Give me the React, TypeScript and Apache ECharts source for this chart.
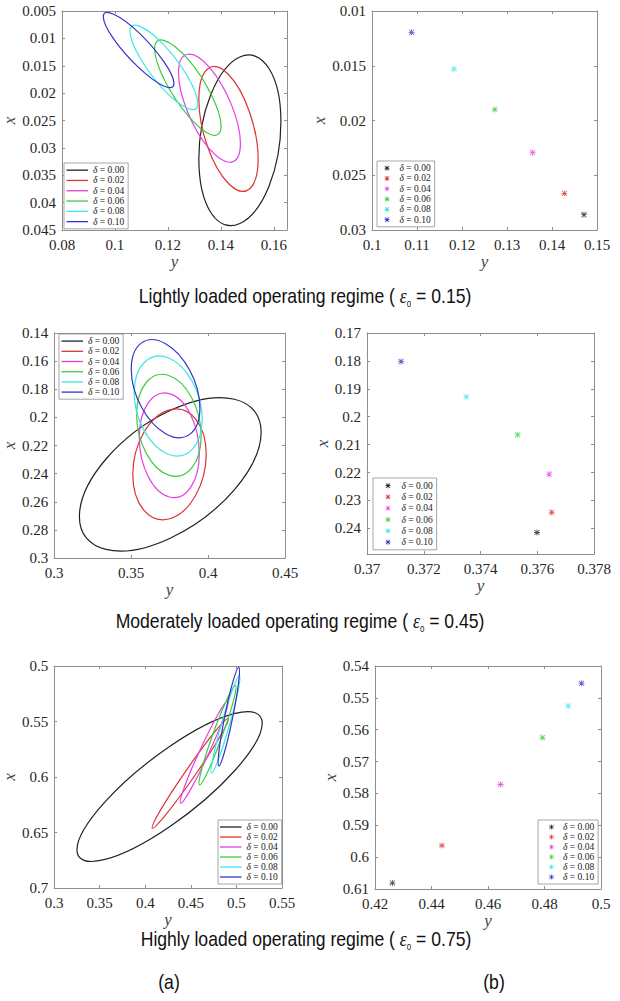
import React, { useEffect, useRef } from 'react';
import * as echarts from 'echarts';

// ---------- data ----------
const DELTAS = ['δ = 0.00', 'δ = 0.02', 'δ = 0.04', 'δ = 0.06', 'δ = 0.08', 'δ = 0.10'];
const COLORS = ['#222222', '#dd3333', '#e53ee5', '#3dcc3d', '#3ee6e6', '#3434c8'];

// Lightly loaded (ε0 = 0.15): ellipse outline points [y, x]
const LIGHT_E0 = [[0.1627, 0.0252], [0.1582, 0.0155], [0.1472, 0.0134], [0.1362, 0.0203], [0.1317, 0.0320], [0.1362, 0.0418], [0.1472, 0.0438], [0.1582, 0.0370]];
const LIGHT_E2 = [[0.1541, 0.0320], [0.1508, 0.0234], [0.1429, 0.0166], [0.1350, 0.0156], [0.1317, 0.0211], [0.1350, 0.0298], [0.1429, 0.0365], [0.1508, 0.0375]];
const LIGHT_E4 = [[0.1474, 0.0292], [0.1440, 0.0221], [0.1357, 0.0153], [0.1275, 0.0129], [0.1240, 0.0163], [0.1275, 0.0235], [0.1357, 0.0302], [0.1440, 0.0326]];
const LIGHT_E6 = [[0.1401, 0.0260], [0.1364, 0.0203], [0.1276, 0.0138], [0.1187, 0.0104], [0.1150, 0.0119], [0.1187, 0.0176], [0.1276, 0.0241], [0.1364, 0.0276]];
const LIGHT_E8 = [[0.1313, 0.0219], [0.1276, 0.0171], [0.1185, 0.0112], [0.1094, 0.0078], [0.1057, 0.0087], [0.1094, 0.0135], [0.1185, 0.0194], [0.1276, 0.0228]];
const LIGHT_E10 = [[0.1223, 0.0182], [0.1184, 0.0142], [0.1089, 0.0089], [0.0995, 0.0056], [0.0956, 0.0060], [0.0995, 0.0101], [0.1089, 0.0153], [0.1184, 0.0187]];

// Moderately loaded (ε0 = 0.45)
const MOD_E0 = [[0.4345, 0.2104], [0.4172, 0.1871], [0.3754, 0.1951], [0.3337, 0.2296], [0.3164, 0.2706], [0.3337, 0.2939], [0.3754, 0.2859], [0.4172, 0.2513]];
const MOD_E2 = [[0.3988, 0.2263], [0.3918, 0.2010], [0.3750, 0.1947], [0.3581, 0.2111], [0.3511, 0.2405], [0.3581, 0.2658], [0.3750, 0.2721], [0.3918, 0.2557]];
const MOD_E4 = [[0.3943, 0.2256], [0.3886, 0.1979], [0.3748, 0.1831], [0.3610, 0.1899], [0.3553, 0.2142], [0.3610, 0.2419], [0.3748, 0.2566], [0.3886, 0.2499]];
const MOD_E6 = [[0.3955, 0.2132], [0.3893, 0.1859], [0.3745, 0.1702], [0.3598, 0.1752], [0.3536, 0.1981], [0.3598, 0.2254], [0.3745, 0.2411], [0.3893, 0.2361]];
const MOD_E8 = [[0.3962, 0.2014], [0.3897, 0.1744], [0.3741, 0.1576], [0.3585, 0.1610], [0.3520, 0.1824], [0.3585, 0.2094], [0.3741, 0.2262], [0.3897, 0.2228]];
const MOD_E10 = [[0.3947, 0.1933], [0.3882, 0.1667], [0.3724, 0.1476], [0.3566, 0.1472], [0.3501, 0.1658], [0.3566, 0.1925], [0.3724, 0.2116], [0.3882, 0.2119]];

// Highly loaded (ε0 = 0.75)
const HIGH_E0 = [[0.5283, 0.5516], [0.4985, 0.5427], [0.4267, 0.5725], [0.3548, 0.6233], [0.3250, 0.6656], [0.3548, 0.6745], [0.4267, 0.6448], [0.4985, 0.5939]];
const HIGH_E2 = [[0.4909, 0.5474], [0.4819, 0.5637], [0.4538, 0.5993], [0.4230, 0.6334], [0.4077, 0.6461], [0.4167, 0.6298], [0.4448, 0.5942], [0.4755, 0.5601]];
const HIGH_E4 = [[0.4905, 0.5315], [0.4862, 0.5463], [0.4693, 0.5793], [0.4496, 0.6114], [0.4387, 0.6236], [0.4430, 0.6088], [0.4600, 0.5758], [0.4797, 0.5437]];
const HIGH_E6 = [[0.4989, 0.5177], [0.4966, 0.5318], [0.4840, 0.5638], [0.4687, 0.5950], [0.4595, 0.6071], [0.4619, 0.5930], [0.4744, 0.5610], [0.4898, 0.5298]];
const HIGH_E8 = [[0.5033, 0.5087], [0.5018, 0.5223], [0.4922, 0.5536], [0.4801, 0.5844], [0.4726, 0.5966], [0.4742, 0.5830], [0.4838, 0.5517], [0.4959, 0.5209]];
const HIGH_E10 = [[0.5026, 0.5012], [0.5024, 0.5147], [0.4959, 0.5463], [0.4869, 0.5775], [0.4807, 0.5900], [0.4809, 0.5765], [0.4873, 0.5449], [0.4963, 0.5137]];

// Equilibrium points [y, x], one per δ
const LIGHT_PTS = [[0.1471, 0.0286], [0.14275, 0.02665], [0.1357, 0.02294], [0.1273, 0.0190], [0.1182, 0.0153], [0.1088, 0.01195]];
const MOD_PTS = [[0.37599, 0.2415], [0.37651, 0.2343], [0.37642, 0.2206], [0.37531, 0.2065], [0.3735, 0.1929], [0.3712, 0.1802]];
const HIGH_PTS = [[0.42616, 0.60813], [0.4437, 0.59633], [0.46444, 0.5772], [0.47926, 0.56247], [0.48838, 0.55254], [0.4931, 0.5454]];

// axis ranges [min, max, interval]
const P1_Y = [0.08, 0.165, 0.02]; const P1_X = [0.005, 0.045, 0.005];
const P2_Y = [0.1, 0.15, 0.01]; const P2_X = [0.01, 0.03, 0.005];
const P3_Y = [0.3, 0.45, 0.05]; const P3_X = [0.14, 0.3, 0.02];
const P4_Y = [0.37, 0.378, 0.002]; const P4_X = [0.17, 0.2492, 0.01];
const P5_Y = [0.3, 0.55, 0.05]; const P5_X = [0.5, 0.7, 0.05];
const P6_Y = [0.42, 0.5, 0.02]; const P6_X = [0.54, 0.61, 0.01];

const CAPTIONS = [
  { pre: 'Lightly loaded operating regime ( ', post: ' = 0.15)', x: 305, y: 296 },
  { pre: 'Moderately loaded operating regime ( ', post: ' = 0.45)', x: 300, y: 621 },
  { pre: 'Highly loaded operating regime ( ', post: ' = 0.75)', x: 306, y: 939 },
];
const SUBLABELS = [{ t: '(a)', x: 169, y: 982 }, { t: '(b)', x: 494, y: 982 }];

// ---------- styling ----------
const SERIF = 'Liberation Serif, Times New Roman, serif';
const SANS = 'Liberation Sans, Arial, sans-serif';
const BOX = '#8f8f8f';
const ASTERISK = 'path://M4.35,0H5.65V10H4.35Z M0,4.35H10V5.65H0Z M1.2,0.3L9.7,8.8L8.8,9.7L0.3,1.2Z M8.8,0.3L9.7,1.2L1.2,9.7L0.3,8.8Z';

const PANELS = [
  { grid: { left: 62, top: 11, width: 225, height: 219 }, h: P1_Y, v: P1_X, hHideMax: true, vHideMax: false, hGap: 22, vGap: 34 },
  { grid: { left: 372, top: 11, width: 225, height: 219 }, h: P2_Y, v: P2_X, hHideMax: false, vHideMax: false, hGap: 22, vGap: 36 },
  { grid: { left: 54, top: 333, width: 231, height: 225 }, h: P3_Y, v: P3_X, hHideMax: false, vHideMax: false, hGap: 20, vGap: 28 },
  { grid: { left: 367, top: 333, width: 227, height: 221 }, h: P4_Y, v: P4_X, hHideMax: false, vHideMax: true, hGap: 23, vGap: 30 },
  { grid: { left: 53, top: 666, width: 229, height: 222 }, h: P5_Y, v: P5_X, hHideMax: false, vHideMax: false, hGap: 18, vGap: 28 },
  { grid: { left: 375, top: 666, width: 226, height: 223 }, h: P6_Y, v: P6_X, hHideMax: false, vHideMax: false, hGap: 18, vGap: 29 },
];

const LEGENDS = [
  { left: 64, top: 163, line: true, pad: [2, 4, 2, 2.5], lh: 10.3, textPad: 0 },
  { left: 377, top: 161, line: false, pad: [2, 4, 2, 7.5], lh: 10.3, textPad: 5 },
  { left: 59, top: 334, line: true, pad: [2, 4, 2, 2.5], lh: 10.2, textPad: 0 },
  { left: 373, top: 478, line: false, pad: [2, 4, 2, 12.5], lh: 11.3, textPad: 6 },
  { left: 218, top: 820, line: true, pad: [2, 4, 2, 2], lh: 9.9, textPad: 0 },
  { left: 538, top: 820, line: false, pad: [2, 4, 2, 11], lh: 9.9, textPad: 4 },
];

function buildAxes() {
  const xAxis: any[] = [];
  const yAxis: any[] = [];
  PANELS.forEach((p, i) => {
    const base = {
      type: 'value', gridIndex: i, splitLine: { show: false },
      axisLine: { show: true, onZero: false, lineStyle: { color: BOX, width: 1 } },
      axisTick: { show: true, inside: true, length: 3, lineStyle: { color: BOX } },
    };
    const lbl = { fontFamily: SERIF, fontSize: 15, color: '#262626' };
    const nameStyle = { fontFamily: SERIF, fontStyle: 'italic', fontSize: 17, color: '#444' };
    xAxis.push({
      ...base, position: 'bottom', min: p.h[0], max: p.h[1], interval: p.h[2],
      axisLabel: { ...lbl, margin: 7, showMaxLabel: p.hHideMax ? false : null },
      name: 'y', nameLocation: 'middle', nameGap: p.hGap, nameTextStyle: nameStyle,
    });
    xAxis.push({ ...base, position: 'top', min: p.h[0], max: p.h[1], interval: p.h[2], axisLabel: { show: false } });
    yAxis.push({
      ...base, position: 'left', inverse: true, min: p.v[0], max: p.v[1], interval: p.v[2],
      axisLabel: { ...lbl, margin: 6, showMaxLabel: p.vHideMax ? false : null },
      name: 'x', nameLocation: 'middle', nameRotate: 90, nameGap: p.vGap, nameTextStyle: nameStyle,
    });
    yAxis.push({ ...base, position: 'right', inverse: true, min: p.v[0], max: p.v[1], interval: p.v[2], axisLabel: { show: false } });
  });
  return { xAxis, yAxis };
}

function ellipseSeries(name: string, color: string, pts: number[][], gi: number) {
  return {
    type: 'custom', name, coordinateSystem: 'cartesian2d',
    xAxisIndex: gi * 2, yAxisIndex: gi * 2,
    data: pts, encode: { x: 0, y: 1 },
    itemStyle: { color }, silent: true, clip: true,
    renderItem: (params: any, api: any) => {
      if (params.dataIndex !== 0) return null;
      const P = pts.map((p) => api.coord(p));
      const n = P.length;
      const t = 0.1875;
      let d = `M${P[0][0]},${P[0][1]}`;
      for (let k = 0; k < n; k++) {
        const p0 = P[(k - 1 + n) % n], p1 = P[k], p2 = P[(k + 1) % n], p3 = P[(k + 2) % n];
        const c1x = p1[0] + (p2[0] - p0[0]) * t, c1y = p1[1] + (p2[1] - p0[1]) * t;
        const c2x = p2[0] - (p3[0] - p1[0]) * t, c2y = p2[1] - (p3[1] - p1[1]) * t;
        d += ` C${c1x},${c1y} ${c2x},${c2y} ${p2[0]},${p2[1]}`;
      }
      d += ' Z';
      return { type: 'path', shape: { pathData: d }, style: { fill: 'none', stroke: color, lineWidth: 1.2 } };
    },
  };
}

function pointSeries(name: string, color: string, pt: number[], gi: number) {
  return {
    type: 'scatter', name, xAxisIndex: gi * 2, yAxisIndex: gi * 2,
    data: [pt], symbol: ASTERISK, symbolSize: 6, itemStyle: { color }, silent: true,
  };
}

export default function App() {
  const ref = useRef<HTMLDivElement>(null);
  useEffect(() => {
    if (!ref.current) return;
    const chart = echarts.init(ref.current, undefined, { renderer: 'svg' });
    const { xAxis, yAxis } = buildAxes();
    const ellipseSets = [
      [LIGHT_E0, LIGHT_E2, LIGHT_E4, LIGHT_E6, LIGHT_E8, LIGHT_E10],
      [MOD_E0, MOD_E2, MOD_E4, MOD_E6, MOD_E8, MOD_E10],
      [HIGH_E0, HIGH_E2, HIGH_E4, HIGH_E6, HIGH_E8, HIGH_E10],
    ];
    const pointSets = [LIGHT_PTS, MOD_PTS, HIGH_PTS];
    const series: any[] = [];
    ellipseSets.forEach((set, r) => set.forEach((pts, k) => series.push(ellipseSeries(DELTAS[k], COLORS[k], pts, r * 2))));
    pointSets.forEach((set, r) => set.forEach((pt, k) => series.push(pointSeries(DELTAS[k], COLORS[k], pt, r * 2 + 1))));

    const legend = LEGENDS.map((L) => ({
      show: true, orient: 'vertical', left: L.left, top: L.top, data: DELTAS, selectedMode: false,
      icon: L.line ? 'rect' : ASTERISK, itemWidth: L.line ? 21.5 : 5, itemHeight: L.line ? 1.3 : 5,
      itemGap: 0, padding: L.pad, borderColor: BOX, borderWidth: 0.8, backgroundColor: '#fff',
      itemStyle: { borderWidth: 0 },
      formatter: (n: string) => n.replace('δ', '{i|δ}'),
      textStyle: {
        fontFamily: SERIF, fontSize: 9.5, color: '#222', lineHeight: L.lh, padding: [0, 0, 0, L.textPad],
        rich: { i: { fontFamily: SERIF, fontStyle: 'italic', fontSize: 9.5, color: '#222', lineHeight: L.lh } },
      },
    }));

    const capRich = {
      t: { fontFamily: SANS, fontSize: 20, lineHeight: 24, verticalAlign: 'middle', fill: '#111' },
      e: { fontFamily: SERIF, fontStyle: 'italic', fontSize: 20, lineHeight: 24, verticalAlign: 'middle', fill: '#111' },
      s: { fontFamily: SANS, fontSize: 9, lineHeight: 10, verticalAlign: 'bottom', fill: '#111' },
    };
    const graphic: any[] = CAPTIONS.map((c) => ({
      type: 'text', x: c.x, y: c.y, scaleX: 0.88, silent: true,
      style: {
        text: `{t|${c.pre}}{e|ε}{s|0}{t|${c.post}}`, x: 0, y: 0, align: 'center', verticalAlign: 'middle',
        fontFamily: SANS, fontSize: 20, fill: '#111', rich: capRich,
      },
    }));
    SUBLABELS.forEach((s) => graphic.push({
      type: 'text', x: s.x, y: s.y, scaleX: 0.88, silent: true,
      style: { text: s.t, x: 0, y: 0, align: 'center', verticalAlign: 'middle', fontFamily: SANS, fontSize: 20, fill: '#111' },
    }));

    chart.setOption({
      animation: false,
      backgroundColor: '#ffffff',
      grid: PANELS.map((p) => ({ ...p.grid, containLabel: false })),
      xAxis, yAxis, series, legend, graphic,
    });
    return () => chart.dispose();
  }, []);
  return <div ref={ref} style={{ position: 'absolute', left: 0, top: 0, width: 620, height: 1001 }} />;
}
